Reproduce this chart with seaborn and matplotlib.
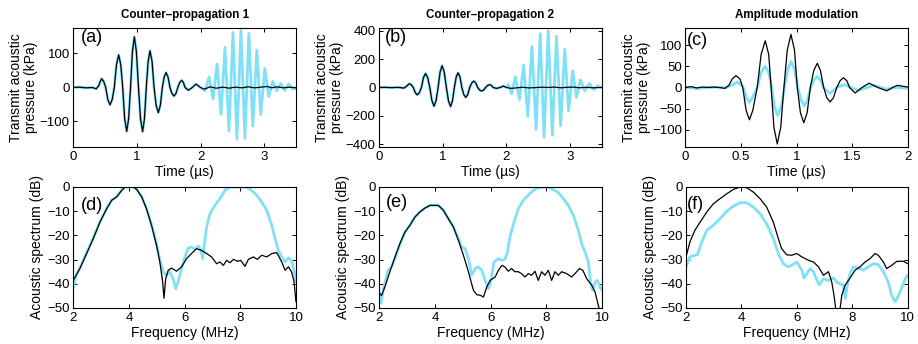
import matplotlib
matplotlib.use("Agg")
import matplotlib.pyplot as plt
import seaborn as sns

# ---------------- data ----------------
# (a) Counter-propagation 1 : time (us), pressure (kPa)
a_black_t = [0.0, 0.1, 0.2, 0.3, 0.36, 0.40, 0.425, 0.446, 0.478, 0.51, 0.544, 0.577, 0.611, 0.645, 0.68,
             0.714, 0.746, 0.777, 0.808, 0.84, 0.87, 0.90, 0.93, 0.96, 0.992, 1.025, 1.057, 1.09, 1.119, 1.148,
             1.177, 1.206, 1.238, 1.27, 1.303, 1.337, 1.368, 1.40, 1.429, 1.458, 1.489, 1.52, 1.552, 1.583, 1.613,
             1.643, 1.674, 1.704, 1.73, 1.757, 1.81, 1.87, 1.93, 2.0, 2.06, 2.15, 2.25, 2.35, 2.45, 2.55,
             2.65, 2.75, 2.85, 2.95, 3.05, 3.12, 3.2, 3.3, 3.4, 3.5]
a_black_p = [0, 1, -1, 0, -4, 5, 18, 26, 18, 0, -36, -51, -36, 0, 68,
             96, 68, 0, -92, -129, -92, 0, 106, 149, 106, 0, -92, -130, -92, 0,
             77, 108, 77, 0, -53, -74, -53, 0, 31, 44, 31, 0, -18, -25, -18,
             0, 15, 21, 15, 0, -8, 0, 10, 0, -5, 2, -2, 1, -2, 1,
             -1, 2, -1, 1, 3, -1, 2, -1, 1, -1]
a_cyan_tail_t = [2.07, 2.135, 2.197, 2.26, 2.322, 2.385, 2.447, 2.51, 2.572, 2.635, 2.697, 2.76,
                 2.822, 2.885, 2.947, 3.01, 3.072, 3.135, 3.197, 3.26, 3.322, 3.385, 3.447, 3.5]
a_cyan_tail_p = [-10, 31, -34, 69, -79, 118, -128, 162, -152, 168, -150, 159,
                 -113, 110, -80, 56, -27, 18, -10, 12, -8, 10, -5, 0]

# (b) Counter-propagation 2
b_black_t = [0.0, 0.1, 0.2, 0.3, 0.39, 0.43, 0.475, 0.507, 0.538, 0.569, 0.60, 0.633, 0.665, 0.697, 0.73,
             0.763, 0.797, 0.83, 0.863, 0.895, 0.927, 0.958, 0.99, 1.023, 1.057, 1.09, 1.123, 1.152, 1.182, 1.211,
             1.24, 1.27, 1.30, 1.33, 1.36, 1.392, 1.423, 1.455, 1.487, 1.518, 1.548, 1.579, 1.61, 1.641, 1.672,
             1.703, 1.735, 1.766, 1.79, 1.845, 1.90, 1.95, 2.0, 2.07, 2.15, 2.25, 2.35, 2.45, 2.55, 2.65,
             2.75, 2.85, 2.95, 3.05, 3.15, 3.25, 3.35, 3.5]
b_black_p = [0, 1, -1, 1, -4, 8, 27, 19, 0, -37, -52, -37, 0, 70, 99,
             70, 0, -93, -132, -93, 0, 109, 154, 109, 0, -95, -134, -95, 0, 74,
             104, 74, 0, -50, -70, -50, 0, 32, 45, 32, 0, -18, -25, -18, 0,
             14, 20, 14, 0, -6, 0, 10, 0, -6, -3, 2, -3, -1, 2, 0,
             3, -2, 1, 3, -2, 1, -2, 0]
b_cyan_tail_t = [2.03, 2.08, 2.14, 2.205, 2.27, 2.335, 2.40, 2.465, 2.53, 2.59, 2.655, 2.72,
                 2.785, 2.85, 2.915, 2.975, 3.04, 3.10, 3.16, 3.23, 3.30, 3.37, 3.43, 3.5]
b_cyan_tail_p = [20, -45, 75, -85, 158, -203, 290, -297, 380, -352, 400, -337,
                 362, -270, 270, -165, 118, -70, 54, -23, 27, -15, 13, 0]

# (c) Amplitude modulation
c_black_t = [0.0, 0.05, 0.1, 0.15, 0.2, 0.25, 0.3, 0.355, 0.39, 0.42, 0.454, 0.49, 0.515, 0.545, 0.575,
             0.605, 0.645, 0.68, 0.717, 0.748, 0.77, 0.795, 0.825, 0.856, 0.885, 0.915, 0.948, 0.98, 1.005, 1.033,
             1.063, 1.094, 1.122, 1.153, 1.185, 1.213, 1.242, 1.27, 1.30, 1.33, 1.36, 1.39, 1.42, 1.45, 1.475,
             1.524, 1.587, 1.65, 1.73, 1.81, 1.86, 1.905, 2.0]
c_black_p = [0, 2, -1, 1, 0, 1, 0, -2, 5, 20, 28, 20, 0, -54, -76,
             -54, 0, 78, 110, 78, 0, -94, -133, -94, 0, 88, 125, 88, 0, -59,
             -83, -59, 0, 40, 57, 40, 0, -24, -34, -24, 0, 16, 23, 16, 0,
             -13, 0, 10, 0, -8, 0, 5, 1]
c_cyan_t = [0.0, 0.05, 0.1, 0.15, 0.2, 0.3, 0.36, 0.42, 0.466, 0.50, 0.52, 0.55, 0.574, 0.60, 0.645,
            0.68, 0.715, 0.748, 0.775, 0.80, 0.83, 0.86, 0.89, 0.92, 0.949, 0.98, 1.01, 1.04, 1.068, 1.096,
            1.125, 1.155, 1.183, 1.213, 1.24, 1.30, 1.36, 1.43, 1.55, 1.69, 1.81, 1.9, 2.0]
c_cyan_p = [0, -1, -3, -1, 0, 1, -1, 6, 13, 6, 0, -25, -35, -25, 0,
            36, 50, 36, 0, -46, -66, -46, 0, 43, 61, 43, 0, -30, -43, -30,
            0, 18, 26, 18, 0, -14, 0, 7, -7, 5, -4, 0, -2]

# (d) spectrum, frequency (MHz) / dB
d_black_f = [2.0, 2.24, 2.48, 2.72, 2.96, 3.2, 3.38, 3.56, 3.74, 3.86, 4.0, 4.16, 4.28, 4.46, 4.63,
             4.81, 4.99, 5.11, 5.21, 5.26, 5.32, 5.41, 5.53, 5.71, 5.89, 6.07, 6.25, 6.43, 6.61, 6.79,
             6.97, 7.15, 7.27, 7.39, 7.51, 7.63, 7.75, 7.9, 8.01, 8.17, 8.29, 8.47, 8.61, 8.77, 8.95,
             9.13, 9.31, 9.49, 9.61, 9.73, 9.84, 9.93, 10.0]
d_black_db = [-38.6, -33.7, -27.5, -21.3, -14.5, -9, -5.5, -4.1, -1.4, 0, 0, 0, -1, -4.1, -9,
              -15.8, -24, -31, -39, -46, -38, -34.4, -33.5, -34.8, -33, -29.6, -27.5, -25.5, -26.2, -27.5,
              -28.9, -31.7, -31, -32.4, -30.3, -31.3, -29.9, -30.7, -30.3, -32.8, -29.9, -28.9, -29.9, -28.2, -28.9,
              -27.5, -27.1, -31, -34.4, -33, -35, -39, -47.5]
d_cyan_f = [2.0, 2.1, 2.24, 2.48, 2.72, 2.96, 3.2, 3.38, 3.56, 3.74, 3.86, 4.0, 4.16, 4.28, 4.46,
            4.63, 4.81, 4.99, 5.11, 5.23, 5.35, 5.47, 5.59, 5.68, 5.77, 5.89, 6.01, 6.13, 6.25, 6.37,
            6.49, 6.59, 6.65, 6.69, 6.79, 6.91, 7.09, 7.27, 7.45, 7.63, 7.9, 8.23, 8.41, 8.59, 8.77,
            8.95, 9.13, 9.25, 9.37, 9.49, 9.61, 9.73, 9.84, 9.94, 10.0]
d_cyan_db = [-42, -36.5, -33.2, -27.2, -21, -14.3, -8.8, -5.4, -4, -1.3, 0, 0, 0, -1, -4,
             -8.8, -15.5, -23.5, -30, -35, -36.5, -35, -37.9, -42, -39, -33.7, -29, -25.2, -24.8, -25.8,
             -24.4, -26.2, -29.6, -25.5, -16.5, -11, -7.6, -4.8, -1.4, 0, 0, 0, -1.4, -3.4, -6.2,
             -9.6, -15.8, -21.3, -26.2, -29, -31, -29.3, -30.3, -35, -39]

# (e)
e_black_f = [2.0, 2.08, 2.2, 2.38, 2.56, 2.74, 2.92, 3.1, 3.28, 3.46, 3.64, 3.82, 4.12, 4.3, 4.48,
             4.66, 4.84, 5.02, 5.2, 5.38, 5.5, 5.64, 5.74, 5.86, 5.98, 6.16, 6.28, 6.4, 6.51, 6.63,
             6.75, 6.87, 6.99, 7.11, 7.23, 7.35, 7.47, 7.59, 7.71, 7.83, 7.95, 8.07, 8.19, 8.31, 8.43,
             8.55, 8.73, 8.91, 9.09, 9.19, 9.31, 9.45, 9.63, 9.75, 9.87, 9.92]
e_black_db = [-44, -44.8, -41.3, -35, -29, -23.4, -18.6, -15.8, -12.4, -10.3, -8.7, -7.6, -7.6, -9.6, -13.1,
              -16.5, -22, -28.2, -35, -42.7, -44.5, -44.8, -45.5, -41.3, -38.6, -37.2, -34.4, -32.4, -33, -34.8,
              -33.7, -35, -35, -35.8, -37.2, -35.8, -36.5, -34.8, -38.6, -35, -36.5, -34.4, -38.6, -35, -36.5,
              -35, -35.8, -37.2, -35, -33.7, -34.4, -37.9, -40.6, -43.4, -49, -51]
e_cyan_f = [2.0, 2.06, 2.17, 2.32, 2.44, 2.56, 2.74, 2.92, 3.1, 3.28, 3.46, 3.64, 3.82, 4.12, 4.3,
            4.48, 4.66, 4.84, 4.96, 5.08, 5.2, 5.32, 5.44, 5.56, 5.68, 5.8, 5.92, 6.0, 6.12, 6.28,
            6.4, 6.51, 6.6, 6.69, 6.84, 6.99, 7.17, 7.35, 7.53, 7.71, 8.01, 8.19, 8.43, 8.61, 8.79,
            8.97, 9.15, 9.27, 9.39, 9.51, 9.59, 9.66, 9.75, 9.83, 9.93, 10.0]
e_cyan_db = [-43.4, -48, -41, -34.4, -33, -29.5, -23.6, -18.8, -15.8, -12.4, -10.3, -8.7, -7.6, -7.6, -9.6,
             -13.1, -16.5, -21.3, -24.8, -25.5, -29.6, -36.5, -33.7, -33, -34.4, -38.6, -42, -39.3, -31, -29.6,
             -30.3, -29.9, -26.9, -20.7, -14.5, -9, -5.5, -3.4, -1.4, -0.3, 0, -0.7, -2.3, -4.8, -7.6,
             -11.7, -17.9, -23.4, -26.9, -31, -39.3, -42.7, -39.3, -38.6, -41.3, -42.7]

# (f)
f_black_f = [2.0, 2.14, 2.32, 2.51, 2.75, 2.99, 3.23, 3.47, 3.71, 3.95, 4.19, 4.43, 4.67, 4.91, 5.15,
             5.33, 5.45, 5.63, 5.81, 6.0, 6.18, 6.42, 6.6, 6.78, 6.96, 7.14, 7.26, 7.34, 7.42, 7.54,
             7.62, 7.74, 7.92, 8.1, 8.28, 8.46, 8.64, 8.82, 8.94, 9.12, 9.24, 9.42, 9.61, 9.85, 10.0]
f_black_db = [-28.9, -22.7, -17.9, -14.5, -10.3, -6.9, -4.8, -2.8, -1, 0, -0.3, -2.1, -4.8, -8.3, -14.5,
              -21.3, -25.5, -28, -28.2, -27.5, -28.9, -30.3, -31, -33, -36.5, -35, -39.3, -44.8, -52, -52,
              -44.8, -40.6, -37.6, -34.4, -33, -31, -29.6, -27.5, -28.2, -31, -33.7, -32.4, -30.7, -30.7, -31.7]
f_cyan_f = [2.0, 2.14, 2.32, 2.41, 2.57, 2.75, 2.99, 3.23, 3.47, 3.71, 3.95, 4.19, 4.43, 4.67, 4.91,
            5.15, 5.33, 5.51, 5.69, 5.81, 6.0, 6.18, 6.26, 6.36, 6.48, 6.6, 6.72, 6.81, 6.96, 7.14,
            7.32, 7.44, 7.56, 7.68, 7.75, 7.82, 7.92, 8.04, 8.22, 8.4, 8.58, 8.76, 8.94, 9.12, 9.3,
            9.42, 9.55, 9.67, 9.79, 9.91, 10.0]
f_cyan_db = [-33, -28.9, -28.2, -28, -22.7, -17.9, -15.8, -13.1, -10, -7.9, -6.5, -6.5, -8.3, -11, -15.2,
             -21.3, -27.5, -31.7, -33, -32.4, -31, -34.4, -37.6, -35.8, -33.7, -35, -38.6, -40.4, -37.9, -38.6,
             -37.6, -39.3, -40, -40.6, -46, -40.6, -35.8, -33, -33.5, -34.4, -33, -31.7, -32.1, -35, -39.3,
             -44.8, -47.5, -44.8, -41.3, -37.9, -36.5]

titles = ["Counter\u2013propagation 1", "Counter\u2013propagation 2", "Amplitude modulation"]
letters = ["(a)", "(b)", "(c)", "(d)", "(e)", "(f)"]

# cyan traces of (a) and (b) coincide with the black ones up to 2 us
a_cyan_t = [t for t in a_black_t if t <= 2.0] + a_cyan_tail_t
a_cyan_p = [p for t, p in zip(a_black_t, a_black_p) if t <= 2.0] + a_cyan_tail_p
b_cyan_t = [t for t in b_black_t if t <= 2.0] + b_cyan_tail_t
b_cyan_p = [p for t, p in zip(b_black_t, b_black_p) if t <= 2.0] + b_cyan_tail_p

# ---------------- style ----------------
sns.set_theme(style="ticks")
plt.rcParams.update({
    "font.family": ["Liberation Sans", "DejaVu Sans"],
    "axes.edgecolor": "black",
    "axes.linewidth": 0.8,
    "xtick.direction": "in", "ytick.direction": "in",
    "xtick.top": True, "ytick.right": True,
    "xtick.major.size": 3, "ytick.major.size": 3,
    "xtick.major.width": 0.7, "ytick.major.width": 0.7,
    "xtick.color": "black", "ytick.color": "black",
    "xtick.labelsize": 9.5, "ytick.labelsize": 9.5,
    "xtick.major.pad": 3, "ytick.major.pad": 2.5,
    "axes.labelsize": 10,
    "axes.labelcolor": "black",
    "text.color": "black",
})

CYAN = "#80e0f8"
BLACK = "black"

fig = plt.figure(figsize=(9.18, 3.44), dpi=100)

top_b, top_h = 0.5727, 0.3459
bot_b, bot_h = 0.1047, 0.3517
lefts_top = [0.0798, 0.4129, 0.7467]
lefts_bot = [0.0798, 0.4132, 0.7473]
widths_top = [0.2426, 0.2429, 0.2424]
widths_bot = [0.2426, 0.2426, 0.2415]

axes_top = [fig.add_axes([l, top_b, w, top_h]) for l, w in zip(lefts_top, widths_top)]
axes_bot = [fig.add_axes([l, bot_b, w, bot_h]) for l, w in zip(lefts_bot, widths_bot)]

top_series = [
    (a_black_t, a_black_p, a_cyan_t, a_cyan_p),
    (b_black_t, b_black_p, b_cyan_t, b_cyan_p),
    (c_black_t, c_black_p, c_cyan_t, c_cyan_p),
]
bot_series = [
    (d_black_f, d_black_db, d_cyan_f, d_cyan_db),
    (e_black_f, e_black_db, e_cyan_f, e_cyan_db),
    (f_black_f, f_black_db, f_cyan_f, f_cyan_db),
]

top_xlim = [(0, 3.5), (0, 3.5), (0, 2)]
top_xticks = [[0, 1, 2, 3], [0, 1, 2, 3], [0, 0.5, 1, 1.5, 2]]
top_ylim = [(-175, 175), (-420, 420), (-140, 140)]
top_yticks = [[-100, 0, 100], [-400, -200, 0, 200, 400], [-100, -50, 0, 50, 100]]
top_letter_pos = [(0.035, 0.99), (0.027, 0.99), (0.005, 0.966)]
bot_letter_pos = [(0.033, 0.917), (0.03, 0.945), (0.006, 0.926)]


def fmt(v):
    s = f"{v:g}"
    return s.replace("-", "\u2212")


for i, ax in enumerate(axes_top):
    bt, bp, ct, cp = top_series[i]
    sns.lineplot(x=ct, y=cp, ax=ax, color=CYAN, linewidth=2.0, estimator=None, sort=False)
    sns.lineplot(x=bt, y=bp, ax=ax, color=BLACK, linewidth=0.9, estimator=None, sort=False)
    ax.set_xlim(*top_xlim[i])
    ax.set_ylim(*top_ylim[i])
    ax.set_xticks(top_xticks[i])
    ax.set_xticklabels([fmt(v) for v in top_xticks[i]])
    ax.set_yticks(top_yticks[i])
    ax.set_yticklabels([fmt(v) for v in top_yticks[i]])
    ax.set_xlabel("Time (\u00b5s)", labelpad=1)
    ax.set_ylabel("Transmit acoustic\npressure (kPa)", labelpad=1, linespacing=1.1)
    ax.set_title(titles[i], fontsize=8.4, fontweight="bold", pad=7)
    ax.text(*top_letter_pos[i], letters[i], transform=ax.transAxes, fontsize=13,
            ha="left", va="top")

for i, ax in enumerate(axes_bot):
    bf, bd, cf, cd = bot_series[i]
    sns.lineplot(x=cf, y=cd, ax=ax, color=CYAN, linewidth=2.0, estimator=None, sort=False)
    sns.lineplot(x=bf, y=bd, ax=ax, color=BLACK, linewidth=0.9, estimator=None, sort=False)
    ax.set_xlim(2, 10)
    ax.set_ylim(-50, 0)
    ax.set_xticks([2, 4, 6, 8, 10])
    ax.set_yticks([-50, -40, -30, -20, -10, 0])
    ax.set_yticklabels([fmt(v) for v in [-50, -40, -30, -20, -10, 0]])
    ax.set_xlabel("Frequency (MHz)", labelpad=1)
    ax.set_ylabel("Acoustic spectrum (dB)", labelpad=2)
    ax.text(*bot_letter_pos[i], letters[i + 3], transform=ax.transAxes, fontsize=13,
            ha="left", va="top")

for ax in axes_top + axes_bot:
    for s in ax.spines.values():
        s.set_visible(True)
        s.set_color("black")
    ax.grid(False)

fig.savefig("out.png", dpi=100)
